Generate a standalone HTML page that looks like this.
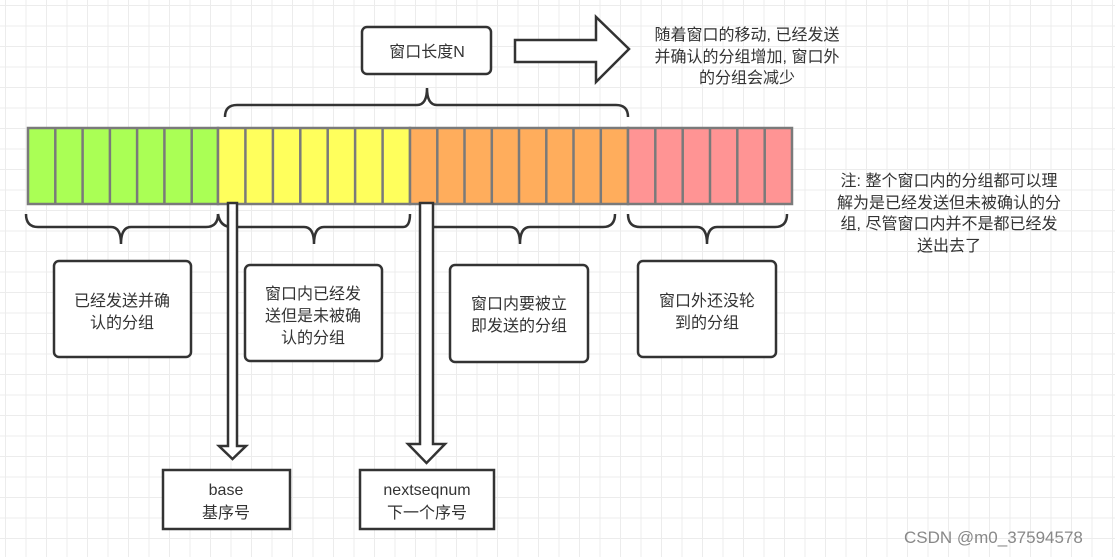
<!DOCTYPE html>
<html><head><meta charset="utf-8"><style>
html,body{margin:0;padding:0}
body{width:1115px;height:557px;overflow:hidden;background:#fff;
background-image:linear-gradient(#ececec 1px,transparent 1px),linear-gradient(90deg,#ececec 1px,transparent 1px);
background-size:20.5px 20.5px;background-position:5px 5px;position:relative;
font-family:"Liberation Sans","Noto Sans CJK SC",sans-serif;color:#333}
svg{position:absolute;left:0;top:0}
</style></head><body>
<svg width="1115" height="557" viewBox="0 0 1115 557" font-family="Liberation Sans, Noto Sans CJK SC, sans-serif" font-size="16" fill="#333">
<g stroke="#7a7a7a" stroke-width="2.5">
<rect x="28" y="128" width="190" height="76" fill="#aaff55"/>
<rect x="218" y="128" width="192" height="76" fill="#ffff5c"/>
<rect x="410" y="128" width="218" height="76" fill="#ffad5c"/>
<rect x="628" y="128" width="164" height="76" fill="#ff9494"/>
<g>
<line x1="55.3" y1="128" x2="55.3" y2="204"/><line x1="82.6" y1="128" x2="82.6" y2="204"/><line x1="109.9" y1="128" x2="109.9" y2="204"/><line x1="137.1" y1="128" x2="137.1" y2="204"/><line x1="164.4" y1="128" x2="164.4" y2="204"/><line x1="191.7" y1="128" x2="191.7" y2="204"/>
<line x1="245.4" y1="128" x2="245.4" y2="204"/><line x1="272.9" y1="128" x2="272.9" y2="204"/><line x1="300.3" y1="128" x2="300.3" y2="204"/><line x1="327.7" y1="128" x2="327.7" y2="204"/><line x1="355.1" y1="128" x2="355.1" y2="204"/><line x1="382.6" y1="128" x2="382.6" y2="204"/>
<line x1="437.3" y1="128" x2="437.3" y2="204"/><line x1="464.5" y1="128" x2="464.5" y2="204"/><line x1="491.8" y1="128" x2="491.8" y2="204"/><line x1="519" y1="128" x2="519" y2="204"/><line x1="546.3" y1="128" x2="546.3" y2="204"/><line x1="573.5" y1="128" x2="573.5" y2="204"/><line x1="600.8" y1="128" x2="600.8" y2="204"/>
<line x1="655.3" y1="128" x2="655.3" y2="204"/><line x1="682.7" y1="128" x2="682.7" y2="204"/><line x1="710" y1="128" x2="710" y2="204"/><line x1="737.3" y1="128" x2="737.3" y2="204"/><line x1="764.7" y1="128" x2="764.7" y2="204"/>
</g></g>
<g fill="none" stroke="#333" stroke-width="2.5">
<path d="M225,117 Q225,105 237,105 L417,105 Q427,105 427,88 Q427,105 437,105 L616,105 Q628,105 628,117"/>
<path d="M26,214 Q26,227 38,227 L111,227 Q121,227 121,244 Q121,227 131,227 L206,227 Q218,227 218,214"/>
<path d="M218,214 Q220,227 232,227 L304,227 Q314,227 314,244 Q314,227 324,227 L403,227 Q410,227 410,214"/>
<path d="M433,227 L510,227 Q520,227 520,244 Q520,227 530,227 L603,227 Q615,227 615,214"/>
<path d="M628,214 Q628,227 640,227 L697,227 Q707,227 707,244 Q707,227 717,227 L775,227 Q787,227 787,214"/>
</g>
<g fill="#fff" stroke="#333" stroke-width="2.5">
<rect x="362" y="27" width="129" height="47" rx="5"/>
<path d="M515,40 L596,40 L596,17 L629,49 L596,82 L596,62 L515,62 Z"/>
<rect x="54" y="261" width="137" height="96" rx="5"/>
<rect x="245" y="265" width="137" height="96" rx="5"/>
<rect x="450" y="265" width="138" height="97" rx="5"/>
<rect x="638" y="261" width="138" height="96" rx="5"/>
<rect x="163" y="470" width="127" height="59"/>
<rect x="360" y="470" width="134" height="59"/>
<path d="M228,203 L237,203 L237,446 L246,446 L232.5,459 L219,446 L228,446 Z"/>
<path d="M420,203 L433,203 L433,444 L445,444 L426.5,463 L408,444 L420,444 Z"/>
</g>
<g text-anchor="middle">
<text x="427" y="57">窗口长度N</text>
<text x="747" y="40">随着窗口的移动, 已经发送</text>
<text x="747" y="62">并确认的分组增加, 窗口外</text>
<text x="747" y="83">的分组会减少</text>
<text x="949" y="186">注: 整个窗口内的分组都可以理</text>
<text x="949" y="208">解为是已经发送但未被确认的分</text>
<text x="949" y="229">组, 尽管窗口内并不是都已经发</text>
<text x="949" y="251">送出去了</text>
<text x="122" y="306">已经发送并确</text>
<text x="122" y="328">认的分组</text>
<text x="313" y="299">窗口内已经发</text>
<text x="313" y="321">送但是未被确</text>
<text x="313" y="343">认的分组</text>
<text x="519" y="309">窗口内要被立</text>
<text x="519" y="331">即发送的分组</text>
<text x="707" y="306">窗口外还没轮</text>
<text x="707" y="328">到的分组</text>
<text x="226" y="495">base</text>
<text x="226" y="518">基序号</text>
<text x="427" y="495">nextseqnum</text>
<text x="427" y="518">下一个序号</text>
</g>
<text x="904" y="543" font-size="17" fill="#888">CSDN @m0_37594578</text>
</svg>
</body></html>
